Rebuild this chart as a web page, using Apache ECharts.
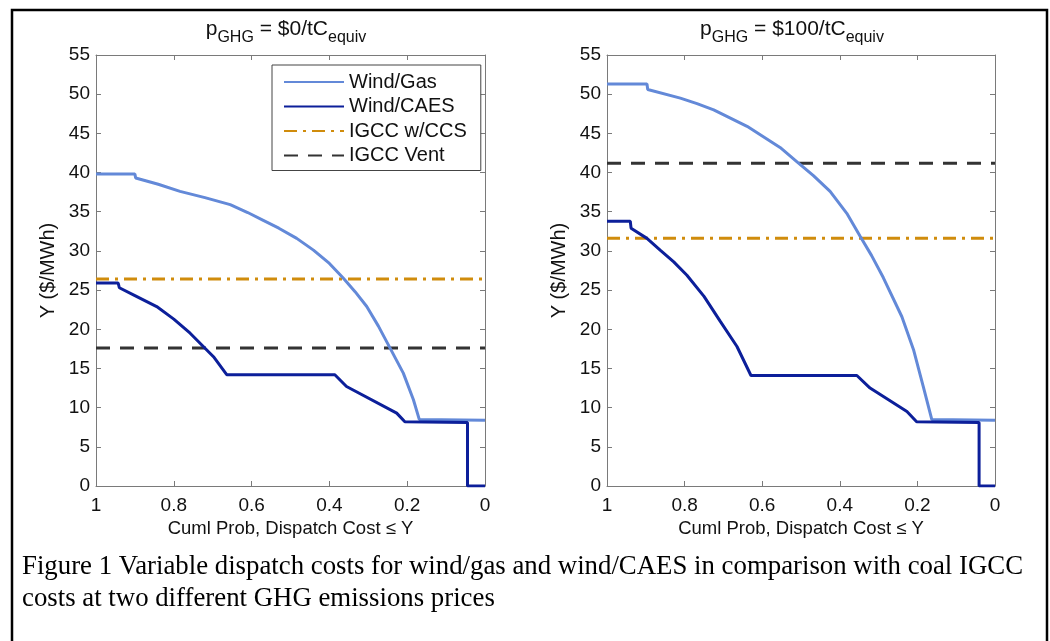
<!DOCTYPE html>
<html>
<head>
<meta charset="utf-8">
<script src="https://cdn.jsdelivr.net/npm/echarts@6/dist/echarts.min.js"></script>
<style>
  html, body { margin: 0; padding: 0; background: #fff; }
  #chart { width: 1050px; height: 641px; }
</style>
</head>
<body>
<div id="chart"></div>
<script>
// values: [cuml prob, $/MWh]
var gasLow = [[1, 39.8], [0.9, 39.8], [0.898, 39.3], [0.84, 38.5], [0.784, 37.6], [0.72, 36.8], [0.655, 35.9],
    [0.61, 34.9], [0.57, 33.9], [0.53, 32.9], [0.484, 31.6], [0.441, 30.1], [0.40, 28.4], [0.364, 26.5],
    [0.334, 24.8], [0.304, 22.9], [0.274, 20.4], [0.244, 17.6], [0.21, 14.4], [0.184, 11.0], [0.169, 8.5], [0, 8.4]];
var caesLow = [[1, 25.9], [0.943, 25.9], [0.94, 25.3], [0.9, 24.3], [0.844, 22.9], [0.80, 21.3], [0.758, 19.5],
    [0.698, 16.5], [0.664, 14.2], [0.386, 14.2], [0.356, 12.7], [0.227, 9.3], [0.206, 8.2], [0.045, 8.1],
    [0.045, 0], [0, 0]];
var gasHigh = [[1, 51.3], [0.897, 51.3], [0.895, 50.6], [0.811, 49.5], [0.768, 48.8], [0.725, 48.0], [0.639, 45.9],
    [0.554, 43.2], [0.511, 41.4], [0.468, 39.6], [0.425, 37.6], [0.382, 34.8], [0.348, 31.9], [0.318, 29.4],
    [0.288, 26.6], [0.24, 21.6], [0.21, 17.4], [0.185, 12.7], [0.163, 8.5], [0, 8.4]];
var caesHigh = [[1, 33.8], [0.94, 33.8], [0.938, 32.9], [0.897, 31.6], [0.863, 30.1], [0.828, 28.6], [0.794, 26.9],
    [0.75, 24.2], [0.708, 21.0], [0.665, 17.8], [0.629, 14.1], [0.356, 14.1], [0.322, 12.5], [0.227, 9.5],
    [0.202, 8.2], [0.041, 8.1], [0.041, 0], [0, 0]];
var ccsLevel = [26.4, 31.6];   // IGCC w/CCS, per panel
var ventLevel = [17.6, 41.2];  // IGCC Vent, per panel
var panelPrice = ['$0', '$100'];
var seriesNames = ['Wind/Gas', 'Wind/CAES', 'IGCC w/CCS', 'IGCC Vent'];
var captionLines = [
    'Figure 1 Variable dispatch costs for wind/gas and wind/CAES in comparison with coal IGCC',
    'costs at two different GHG emissions prices'
];

var FONT = 'Liberation Sans';
var axisGray = '#7a7a7a';
var colors = {gas: '#6389d8', caes: '#0c1f9a', ccs: '#d08c0c', vent: '#333333'};

var gridPos = [{left: 96, top: 55, width: 389, height: 431}, {left: 607, top: 55, width: 388, height: 431}];
var titleCenter = [286, 792];

function flat(v) {
    return [[1, v], [0, v]];
}

var option = {
    animation: false,
    backgroundColor: '#fff',
    title: [],
    grid: [],
    xAxis: [],
    yAxis: [],
    series: [],
    legend: {
        data: seriesNames,
        orient: 'vertical',
        left: 272,
        top: 65,
        padding: [7, 14, 5, 11],
        itemWidth: 60,
        itemHeight: 14,
        itemGap: 4.5,
        itemStyle: {opacity: 0},
        backgroundColor: '#fff',
        borderColor: '#444',
        borderWidth: 1,
        borderRadius: 0,
        textStyle: {fontFamily: FONT, fontSize: 20, lineHeight: 20, color: '#111'}
    },
    graphic: [
        {
            type: 'rect',
            shape: {x: 12, y: 10, width: 1035, height: 645},
            style: {fill: null, stroke: '#000', lineWidth: 2.5},
            silent: true
        }
    ]
};

captionLines.forEach(function (t, i) {
    option.graphic.push({
        type: 'text',
        left: 22,
        top: 553 + i * 32,
        style: {text: t, font: '26.8px "Liberation Serif"', fill: '#000'}
    });
});

for (var p = 0; p < 2; p++) {
    option.grid.push(gridPos[p]);
    option.title.push({
        text: '{a|p}{s|GHG}{a| = ' + panelPrice[p] + '/tC}{s|equiv}',
        left: titleCenter[p],
        textAlign: 'center',
        top: 19,
        padding: 0,
        textStyle: {
            rich: {
                a: {fontFamily: FONT, fontSize: 21, fontWeight: 'normal', color: '#111', verticalAlign: 'top', lineHeight: 22},
                s: {fontFamily: FONT, fontSize: 16, fontWeight: 'normal', color: '#111', verticalAlign: 'bottom', lineHeight: 27}
            }
        }
    });
    var common = {
        type: 'value',
        gridIndex: p,
        axisLine: {show: true, onZero: false, lineStyle: {color: axisGray, width: 1}},
        axisTick: {show: true, inside: true, length: 5, lineStyle: {color: axisGray}},
        splitLine: {show: false}
    };
    option.xAxis.push(Object.assign({}, common, {
        position: 'bottom', min: 0, max: 1, interval: 0.2, inverse: true,
        name: 'Cuml Prob, Dispatch Cost \u2264 Y',
        nameLocation: 'middle', nameGap: 32,
        nameTextStyle: {fontFamily: FONT, fontSize: 18.5, color: '#111'},
        axisLabel: {fontFamily: FONT, fontSize: 19, color: '#111', margin: 10}
    }));
    option.xAxis.push(Object.assign({}, common, {
        position: 'top', min: 0, max: 1, interval: 0.2, inverse: true,
        axisLabel: {show: false}
    }));
    option.yAxis.push(Object.assign({}, common, {
        position: 'left', min: 0, max: 55, interval: 5,
        name: 'Y ($/MWh)',
        nameLocation: 'middle', nameGap: 38,
        nameTextStyle: {fontFamily: FONT, fontSize: 20, color: '#111'},
        axisLabel: {fontFamily: FONT, fontSize: 19, color: '#111', margin: 6}
    }));
    option.yAxis.push(Object.assign({}, common, {
        position: 'right', min: 0, max: 55, interval: 5,
        axisLabel: {show: false}
    }));
}

function addSeries(p, name, data, color, type) {
    option.series.push({
        name: name,
        type: 'line',
        xAxisIndex: p * 2,
        yAxisIndex: p * 2,
        data: data,
        showSymbol: false,
        symbol: 'none',
        lineStyle: {color: color, width: 3, type: type || 'solid'},
        itemStyle: {color: color}
    });
}

var panelData = [[gasLow, caesLow], [gasHigh, caesHigh]];
for (var q = 0; q < 2; q++) {
    addSeries(q, 'IGCC w/CCS', flat(ccsLevel[q]), colors.ccs, [13, 6, 3, 6]);
    addSeries(q, 'IGCC Vent', flat(ventLevel[q]), colors.vent, [14, 10]);
    addSeries(q, 'Wind/Gas', panelData[q][0], colors.gas);
    addSeries(q, 'Wind/CAES', panelData[q][1], colors.caes);
}

var chart = echarts.init(document.getElementById('chart'), null, {renderer: 'canvas'});
chart.setOption(option);
</script>
</body>
</html>
